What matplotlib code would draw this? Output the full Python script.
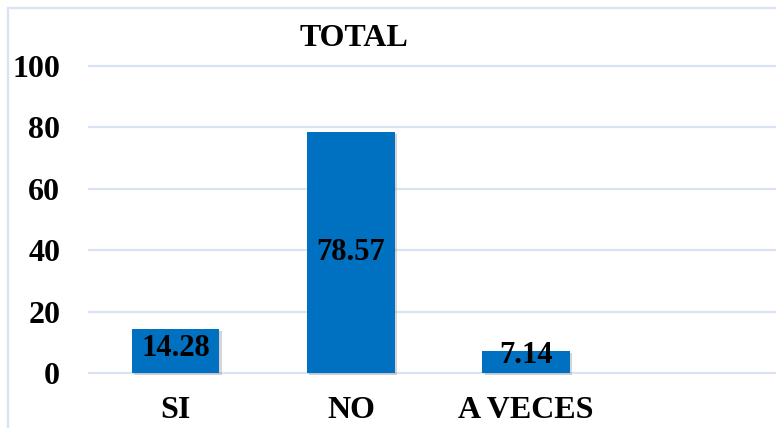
import matplotlib
matplotlib.use("Agg")
import matplotlib.pyplot as plt
from matplotlib.patches import Rectangle
import matplotlib.patheffects as pe

categories = ["SI", "NO", "A VECES"]
values = [14.28, 78.57, 7.14]
value_labels = ["14.28", "78.57", "7.14"]
yticks = [0, 20, 40, 60, 80, 100]
title = "TOTAL"

plt.rcParams["font.family"] = ["Liberation Serif", "DejaVu Serif"]
plt.rcParams["font.weight"] = "bold"

W, H = 776, 428
fig = plt.figure(figsize=(W / 100, H / 100), dpi=100)

# outer chart border (cropped on the right/bottom)
fig.patches.append(Rectangle((8 / W, -0.1), 1.2, (H - 8) / H + 0.1, transform=fig.transFigure,
                             fill=False, edgecolor="#dae3f3", linewidth=1.6))

# axes placement: y 0 -> 373px, 100 -> 66px ; x slot 175.3px starting at 88px
ppu = (373 - 66) / 100
ylo, yhi = -3, 103
bottom_px = 373 + (0 - ylo) * ppu
top_px = 66 - (yhi - 100) * ppu
left_px = 88
ax = fig.add_axes([left_px / W, (H - bottom_px) / H, 1 - left_px / W, (bottom_px - top_px) / H])

slot = 175.3
xs = list(range(len(categories)))
bars = ax.bar(xs, values, width=0.5, color="#0070c0", zorder=3)
for b in bars:
    b.set_path_effects([pe.SimplePatchShadow(offset=(1.5, -1.5), shadow_rgbFace="#888888", alpha=0.35),
                        pe.Normal()])

ax.set_xlim(-0.5, -0.5 + (W - left_px) / slot)
ax.set_ylim(ylo, yhi)

ax.set_yticks(yticks)
ax.set_yticklabels([str(t) for t in yticks], fontsize=23, fontweight="bold")
ax.set_xticks(xs)
ax.set_xticklabels(categories, fontsize=23, fontweight="bold")
ax.tick_params(axis="y", length=0, pad=20)
ax.tick_params(axis="x", length=0, pad=10)
ax.grid(axis="y", color="#d9e3f3", linewidth=1.6, zorder=0)
for s in ax.spines.values():
    s.set_visible(False)

for x, v, lab in zip(xs, values, value_labels):
    ly = v / 2 if v > 50 else max(v - 6.2, 5.6)
    ax.text(x, ly, lab, ha="center", va="center", fontsize=22, fontweight="bold",
            color="black", zorder=4)

fig.text(354.5 / W, 1 - 38 / H, title, ha="center", va="center", fontsize=23, fontweight="bold")

fig.savefig("out.png", dpi=100)
